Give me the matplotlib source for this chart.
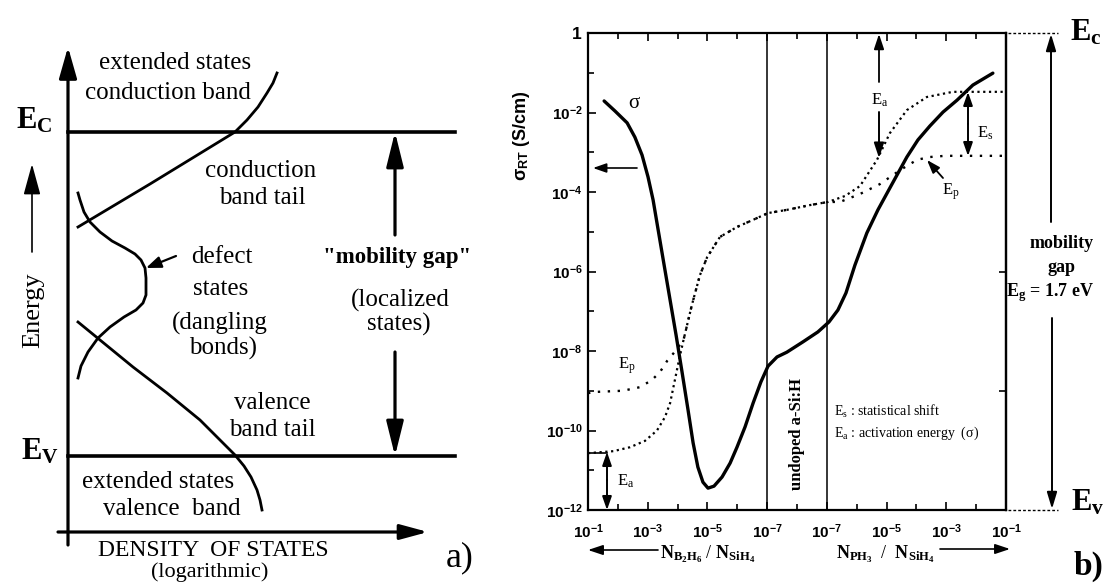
import matplotlib
matplotlib.use('Agg')
import matplotlib.pyplot as plt
import numpy as np
from matplotlib.ticker import FixedLocator, FixedFormatter, NullFormatter

plt.rcParams['font.family'] = ['Liberation Serif', 'DejaVu Serif']
plt.rcParams['mathtext.fontset'] = 'custom'
plt.rcParams['mathtext.rm'] = 'Liberation Serif'
plt.rcParams['mathtext.it'] = 'Liberation Serif:italic'
plt.rcParams['mathtext.bf'] = 'Liberation Serif:bold'
plt.rcParams['mathtext.sf'] = 'Liberation Sans:bold'

# ---------------- panel a: schematic density of states (figure pixel units) ----
cb_x = [78, 150, 235, 247, 258, 267, 273, 277]
cb_y = [227, 184, 132, 120, 107, 93, 83, 73]
vb_x = [78, 100, 133, 167, 200, 220, 235, 244, 251, 257, 260, 262]
vb_y = [322, 340, 367, 393, 420, 440, 455, 466, 477, 490, 500, 510]
defect_x = [78, 80, 84, 90, 100, 112, 125, 135, 141, 145, 146, 146, 143, 136, 124, 110, 98, 88, 81, 78]
defect_y = [193, 200, 212, 222, 232, 241, 248, 254, 260, 268, 278, 295, 303, 310, 317, 327, 338, 352,
            366, 378]
Ec_level = 132
Ev_level = 456

# ---------------- panel b: conductivity data ----------------
# x coordinate: 0..6 -> B2H6/SiH4 from 1e-1 to 1e-7; 8..14 -> PH3/SiH4 from 1e-7 to 1e-1
x_tick_pos = [0, 2, 4, 6, 8, 10, 12, 14]
x_tick_labels = [r'$\mathsf{10^{-1}}$', r'$\mathsf{10^{-3}}$', r'$\mathsf{10^{-5}}$', r'$\mathsf{10^{-7}}$',
                 r'$\mathsf{10^{-7}}$', r'$\mathsf{10^{-5}}$', r'$\mathsf{10^{-3}}$', r'$\mathsf{10^{-1}}$']
y_tick_exp = [0, -2, -4, -6, -8, -10, -12]
y_tick_labels = [r'$\mathsf{1}$', r'$\mathsf{10^{-2}}$', r'$\mathsf{10^{-4}}$', r'$\mathsf{10^{-6}}$',
                 r'$\mathsf{10^{-8}}$', r'$\mathsf{10^{-10}}$', r'$\mathsf{10^{-12}}$']
undoped_bounds = [6, 8]

sigma_u = [0.54, 0.90, 1.31, 1.57, 1.81, 2.01, 2.18, 2.34, 2.55, 2.75, 2.95, 3.15, 3.35, 3.52,
           3.68, 3.85, 4.02, 4.22, 4.49, 4.76, 4.99, 5.26, 5.53, 5.79, 6.03, 6.33, 6.66, 7.20,
           7.70, 8.07, 8.37, 8.64, 8.94, 9.34, 9.71, 10.11, 10.68, 11.05, 11.45, 11.89, 12.36,
           12.89, 13.56]
sigma_log = [-1.71, -1.96, -2.26, -2.62, -3.07, -3.62, -4.20, -4.91, -5.84, -6.72, -7.60, -8.53,
             -9.48, -10.31, -10.92, -11.30, -11.45, -11.40, -11.17, -10.82, -10.42, -9.91, -9.31,
             -8.78, -8.38, -8.15, -8.03, -7.77, -7.52, -7.27, -6.97, -6.54, -5.84, -5.03, -4.45,
             -3.90, -3.12, -2.69, -2.34, -1.99, -1.69, -1.31, -1.01]

ef_u = [0.0, 0.85, 1.41, 1.91, 2.31, 2.58, 2.75, 2.91, 3.05, 3.20, 3.48, 3.75, 3.99, 4.42, 4.99,
        5.53, 6.03, 6.66, 7.43, 8.04, 8.61, 9.11, 9.68, 10.11, 10.68, 11.35, 12.22, 12.69, 14.0]
ef_log = [-10.57, -10.52, -10.42, -10.26, -10.00, -9.66, -9.31, -8.73, -8.22, -7.72, -6.84, -6.09,
          -5.64, -5.13, -4.88, -4.70, -4.53, -4.45, -4.33, -4.25, -4.10, -3.85, -3.19, -2.52,
          -1.94, -1.61, -1.48, -1.48, -1.48]

ep_u = [0.0, 0.23, 1.17, 1.74, 2.14, 2.41, 2.65, 2.95, 3.20, 3.48, 3.75, 3.99, 4.42, 4.99, 5.53,
        6.03, 6.66, 7.43, 8.04, 8.44, 9.11, 9.78, 10.45, 11.02, 11.45, 11.96, 14.0]
ep_log = [-9.06, -9.03, -9.00, -8.91, -8.73, -8.53, -8.25, -7.98, -7.72, -6.84, -6.09, -5.64,
          -5.13, -4.88, -4.70, -4.53, -4.45, -4.33, -4.25, -4.25, -4.05, -3.80, -3.45, -3.19,
          -3.12, -3.09, -3.09]

W, H = 1105, 584
fig = plt.figure(figsize=(W / 100, H / 100), dpi=100)

# panel b axes placed on its pixel box
bx0, bx1, by0, by1 = 588, 1006, 33, 510
axb = fig.add_axes([bx0 / W, (H - by1) / H, (bx1 - bx0) / W, (by1 - by0) / H])
axb.set_xlim(0, 14)
axb.set_yscale('log')
axb.set_ylim(1e-12, 1)
axb.plot(sigma_u, 10.0 ** np.array(sigma_log), color='k', lw=2.4, solid_capstyle='round',
         solid_joinstyle='round')
axb.plot(ef_u, 10.0 ** np.array(ef_log), color='k', lw=1.6, ls=(0, (1, 1.6)))
axb.plot(ep_u, 10.0 ** np.array(ep_log), color='k', lw=1.7, ls=(0, (1, 3.2)))
for xb in undoped_bounds:
    axb.axvline(xb, color='k', lw=1.1)

axb.xaxis.set_major_locator(FixedLocator(x_tick_pos))
axb.xaxis.set_major_formatter(FixedFormatter(x_tick_labels))
axb.xaxis.set_minor_locator(FixedLocator(list(range(0, 15))))
axb.yaxis.set_major_locator(FixedLocator([10.0 ** e for e in y_tick_exp]))
axb.yaxis.set_major_formatter(FixedFormatter(y_tick_labels))
axb.yaxis.set_minor_locator(FixedLocator([10.0 ** e for e in range(-11, 0, 2)]))
axb.yaxis.set_minor_formatter(NullFormatter())
axb.tick_params(which='both', direction='in', top=True, right=False, width=1.2, colors='k')
axb.tick_params(which='major', length=6)
axb.tick_params(which='minor', length=4)
axb.tick_params(axis='x', which='major', labelsize=11, pad=9)
axb.tick_params(axis='y', which='major', labelsize=11, pad=4)
for sp in axb.spines.values():
    sp.set_linewidth(1.6)
sec = axb.secondary_yaxis('right')
sec.set_yticks([1e-6, 1e-9])
sec.set_yticklabels([])
sec.tick_params(direction='in', length=5, width=1.2)
sec.spines['right'].set_linewidth(1.6)
axb.set_ylabel(r'σ$_{\mathsf{RT}}$ (S/cm)', fontsize=13, fontfamily='Liberation Sans',
               fontweight='bold')
axb.yaxis.set_label_coords(-0.135, 0.785)
ylabs = axb.get_yticklabels()
ylabs[0].set_fontsize(12.5)

# overlay axes in pixel coordinates
axo = fig.add_axes([0, 0, 1, 1])
axo.set_xlim(0, W)
axo.set_ylim(H, 0)
axo.axis('off')
axo.patch.set_alpha(0)


def arrow(x0, y0, x1, y1, lw=1.2, hl=8, hw=2.8, style='-|>'):
    axo.annotate('', xy=(x1, y1), xytext=(x0, y0),
                 arrowprops=dict(arrowstyle=f'{style},head_length={hl},head_width={hw}',
                                 lw=lw, color='k', shrinkA=0, shrinkB=0, mutation_scale=1))


def txt(x, y, s, size=18, **kw):
    kw.setdefault('ha', 'center')
    kw.setdefault('va', 'center')
    axo.text(x, y, s, fontsize=size, color='k', **kw)


# ---- panel a drawing ----
arrow(68, 545, 68, 47, lw=2.3, hl=19, hw=5.4)          # energy axis
arrow(58, 532, 428, 532, lw=2.3, hl=17, hw=4.6)        # DOS axis
axo.plot([68, 455], [Ec_level, Ec_level], color='k', lw=2.6)
axo.plot([68, 455], [Ev_level, Ev_level], color='k', lw=2.6)
axo.plot(cb_x, cb_y, color='k', lw=2.0, solid_joinstyle='round')
axo.plot(vb_x, vb_y, color='k', lw=2.0, solid_joinstyle='round')
axo.plot(defect_x, defect_y, color='k', lw=2.0, solid_joinstyle='round')
arrow(176, 256, 146, 268, lw=1.6, hl=9, hw=3.5)        # defect pointer
arrow(395, 235, 395, Ec_level, lw=2.3, hl=21, hw=5.2)  # mobility gap arrows
arrow(395, 352, 395, Ev_level, lw=2.3, hl=21, hw=5.2)
arrow(32, 252, 32, 164, lw=1.2, hl=19, hw=5.2)         # energy label arrow

txt(175, 63, 'extended states', 18)
txt(168, 93, 'conduction band', 18)
txt(261, 171, 'conduction', 18)
txt(262, 198, 'band tail', 18)
txt(222, 257, 'defect', 18)
txt(221, 289, 'states', 18)
txt(220, 323, '(dangling', 18)
txt(223, 348, 'bonds)', 18)
txt(272, 403, 'valence', 18)
txt(272, 430, 'band tail', 18)
txt(158, 482, 'extended states', 18)
txt(172, 509, 'valence  band', 18)
txt(213, 550, 'DENSITY  OF STATES', 17)
txt(210, 572, '(logarithmic)', 16)
txt(397, 258, '"mobility gap"', 16.5, fontweight='bold')
txt(400, 300, '(localized', 18)
txt(399, 324, 'states)', 18)
txt(33, 310, 'Energy', 19, rotation=90)
txt(16, 121, r'$\mathbf{E}_{\mathbf{C}}$', 22, ha='left')
txt(21, 452, r'$\mathbf{E}_{\mathbf{V}}$', 22, ha='left')
txt(460, 558, 'a)', 26)

# ---- panel b annotations ----
txt(634, 104, 'σ', 15)
arrow(637, 168, 593, 168, lw=1.2, hl=8, hw=2.8)
txt(627, 366, r'E$_\mathrm{p}$', 12)
txt(626, 481, r'E$_\mathrm{a}$', 12)
arrow(607, 480, 607, 452, lw=1.4, hl=8, hw=2.8)
arrow(607, 480, 607, 510, lw=1.4, hl=8, hw=2.8)
axo.plot([588, 607], [453, 453], color='k', lw=1.2)
arrow(879, 82, 879, 34, lw=1.3, hl=9, hw=3)
txt(880, 100, r'E$_\mathrm{a}$', 12)
arrow(879, 112, 879, 158, lw=1.4, hl=9, hw=3)
arrow(968, 124, 968, 92, lw=1.4, hl=8, hw=2.8)
arrow(968, 124, 968, 156, lw=1.4, hl=8, hw=2.8)
txt(985, 133, r'E$_\mathrm{s}$', 12)
arrow(943, 178, 927, 160, lw=1.3, hl=8, hw=2.8)
txt(951, 192, r'E$_\mathrm{p}$', 12)
txt(797, 434, 'undoped a-Si:H', 12, rotation=90, fontweight='bold')
txt(834, 411, r'E$_\mathrm{s}$ : statistical shift', 10, ha='left')
txt(834, 433, r'E$_\mathrm{a}$ : activation energy  (σ)', 10, ha='left')

# x-axis labels
arrow(658, 550, 588, 550, lw=1.2, hl=9, hw=3)
txt(660, 554, r'$\mathbf{N}_{\mathbf{B_2H_6}}$ / $\mathbf{N}_{\mathbf{SiH_4}}$', 13, ha='left')
txt(836, 554, r'$\mathbf{N}_{\mathbf{PH_3}}$  /  $\mathbf{N}_{\mathbf{SiH_4}}$', 13, ha='left')
arrow(940, 549, 1010, 549, lw=1.2, hl=9, hw=3)

# right margin: mobility gap of the energy scale
axo.plot([1008, 1058], [by0, by0], color='k', lw=1.0, ls=(0, (2, 1.5)))
axo.plot([1008, 1058], [by1, by1], color='k', lw=1.0, ls=(0, (2, 1.5)))
arrow(1051, 222, 1051, 34, lw=1.4, hl=10, hw=3)
arrow(1052, 318, 1052, 509, lw=1.4, hl=10, hw=3)
txt(1062, 243, 'mobility', 13, fontweight='bold')
txt(1062, 268, 'gap', 13, fontweight='bold')
txt(1006, 293, r'$\mathbf{E_g}$ = 1.7 eV', 13, ha='left', fontweight='bold')
txt(1070, 33, r'$\mathbf{E}_{\mathbf{c}}$', 22, ha='left')
txt(1071, 503, r'$\mathbf{E}_{\mathbf{v}}$', 22, ha='left')
txt(1089, 566, 'b)', 24, fontweight='bold')

fig.savefig('out.png', dpi=100)
